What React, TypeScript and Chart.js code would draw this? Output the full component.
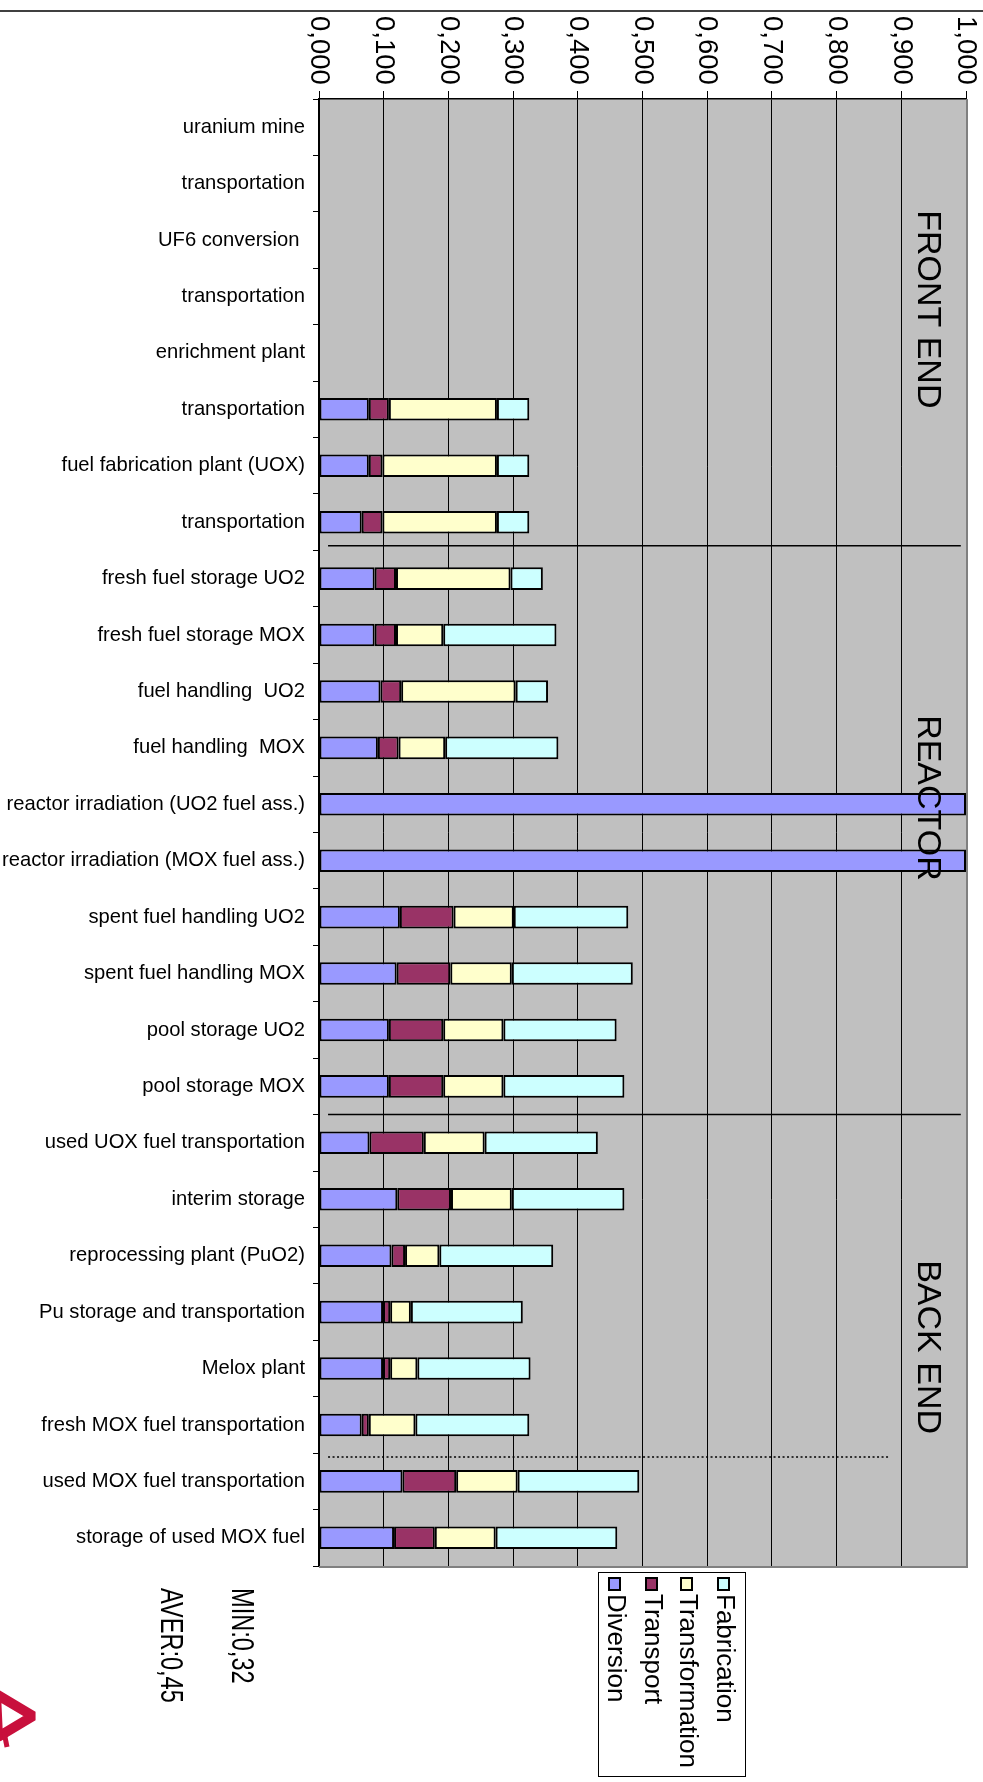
import React, { useEffect, useRef } from "react";
import { Chart, registerables } from "chart.js";
Chart.register(...registerables);

const categories = [
  "uranium mine",
  "transportation",
  "UF6 conversion ",
  "transportation",
  "enrichment plant",
  "transportation",
  "fuel fabrication plant (UOX)",
  "transportation",
  "fresh fuel storage UO2",
  "fresh fuel storage MOX",
  "fuel handling  UO2",
  "fuel handling  MOX",
  "reactor irradiation (UO2 fuel ass.)",
  "reactor irradiation (MOX fuel ass.)",
  "spent fuel handling UO2",
  "spent fuel handling MOX",
  "pool storage UO2",
  "pool storage MOX",
  "used UOX fuel transportation",
  "interim storage",
  "reprocessing plant (PuO2)",
  "Pu storage and transportation",
  "Melox plant",
  "fresh MOX fuel transportation",
  "used MOX fuel transportation",
  "storage of used MOX fuel",
];

const diversion = [null, null, null, null, null, 0.077, 0.077, 0.066, 0.086, 0.086, 0.095, 0.091, 1.0, 1.0, 0.125, 0.12, 0.108, 0.108, 0.078, 0.121, 0.112, 0.099, 0.099, 0.066, 0.129, 0.116];
const transport = [null, null, null, null, null, 0.031, 0.021, 0.032, 0.033, 0.033, 0.032, 0.032, null, null, 0.083, 0.083, 0.084, 0.084, 0.084, 0.083, 0.021, 0.011, 0.011, 0.011, 0.083, 0.063];
const transformation = [null, null, null, null, null, 0.167, 0.177, 0.177, 0.177, 0.073, 0.177, 0.072, null, null, 0.093, 0.095, 0.093, 0.093, 0.094, 0.094, 0.053, 0.032, 0.042, 0.072, 0.095, 0.094];
const fabrication = [null, null, null, null, null, 0.05, 0.05, 0.05, 0.05, 0.175, 0.05, 0.175, null, null, 0.177, 0.187, 0.175, 0.187, 0.175, 0.174, 0.176, 0.173, 0.175, 0.176, 0.188, 0.188];

const seriesNames = ["Diversion", "Transport", "Transformation", "Fabrication"];
const seriesColors = ["#9999FF", "#993366", "#FFFFCC", "#CCFFFF"];
const xTickValues = [0, 0.1, 0.2, 0.3, 0.4, 0.5, 0.6, 0.7, 0.8, 0.9, 1.0];
const sectionLabels = ["FRONT END", "REACTOR", "BACK END"];
const sectionLabelStart = [1.47, 10.42, 20.08];
const separators = [7.42, 17.5];
const dottedSeparator = 23.57;
const statLabels = ["MIN:0,32", "AVER:0,45"];

const FONT = "'Liberation Sans', Arial, sans-serif";

function vtext(ctx: CanvasRenderingContext2D, text: string, x: number, y: number, size: number, sx = 1) {
  ctx.save();
  ctx.translate(x, y);
  ctx.rotate(Math.PI / 2);
  ctx.scale(sx, 1);
  ctx.font = `${size}px ${FONT}`;
  ctx.textAlign = "left";
  ctx.textBaseline = "middle";
  ctx.fillStyle = "#000";
  ctx.fillText(text, 0, 0);
  ctx.restore();
}

const decorPlugin = {
  id: "decor",
  beforeDraw(chart: any) {
    const { ctx, chartArea } = chart;
    ctx.save();
    ctx.fillStyle = "#C0C0C0";
    ctx.fillRect(chartArea.left, chartArea.top, chartArea.right - chartArea.left, chartArea.bottom - chartArea.top);
    ctx.strokeStyle = "#404040";
    ctx.lineWidth = 2;
    ctx.beginPath();
    ctx.moveTo(0, 11);
    ctx.lineTo(chart.width, 11);
    ctx.stroke();
    ctx.restore();
  },
  afterDatasetsDraw(chart: any) {
    const { ctx, chartArea } = chart;
    const xs = chart.scales.x;
    const ys = chart.scales.y;
    ctx.save();
    ctx.strokeStyle = "#808080";
    ctx.lineWidth = 2;
    ctx.beginPath();
    ctx.moveTo(chartArea.right + 1, chartArea.top);
    ctx.lineTo(chartArea.right + 1, chartArea.bottom + 1);
    ctx.lineTo(chartArea.left, chartArea.bottom + 1);
    ctx.stroke();

    ctx.strokeStyle = "#000";
    ctx.lineWidth = 1.5;
    for (const s of separators) {
      const y = ys.getPixelForValue(s);
      ctx.beginPath();
      ctx.moveTo(xs.getPixelForValue(0.014), y);
      ctx.lineTo(xs.getPixelForValue(0.992), y);
      ctx.stroke();
    }
    ctx.setLineDash([2, 2.5]);
    {
      const y = ys.getPixelForValue(dottedSeparator);
      ctx.beginPath();
      ctx.moveTo(xs.getPixelForValue(0.014), y);
      ctx.lineTo(xs.getPixelForValue(0.882), y);
      ctx.stroke();
    }
    ctx.setLineDash([]);

    for (const v of xTickValues) {
      const label = v.toFixed(3).replace(".", ",");
      vtext(ctx, label, xs.getPixelForValue(v), 16, 28, 0.98);
    }

    sectionLabels.forEach((t, i) => {
      vtext(ctx, t, xs.getPixelForValue(0.94), ys.getPixelForValue(sectionLabelStart[i]), 34);
    });

    const lx0 = 598, ly0 = 1572, lw = 147, lh = 204;
    ctx.fillStyle = "#fff";
    ctx.fillRect(lx0, ly0, lw, lh);
    ctx.strokeStyle = "#000";
    ctx.lineWidth = 1;
    ctx.strokeRect(lx0 + 0.5, ly0 + 0.5, lw, lh);
    const itemX = [614, 651, 686, 723];
    seriesNames.forEach((n, i) => {
      const cx = itemX[i];
      ctx.fillStyle = seriesColors[i];
      ctx.fillRect(cx - 5, 1578, 11, 12);
      ctx.strokeStyle = "#000";
      ctx.lineWidth = 2;
      ctx.strokeRect(cx - 5, 1578, 11, 12);
      vtext(ctx, n, cx + 1, 1594, 26);
    });

    vtext(ctx, statLabels[0], 241, 1588, 31, 0.76);
    vtext(ctx, statLabels[1], 170, 1588, 31, 0.76);

    ctx.strokeStyle = "#C8103C";
    ctx.lineWidth = 10;
    ctx.lineJoin = "bevel";
    ctx.beginPath();
    ctx.moveTo(-4, 1694);
    ctx.lineTo(33, 1716);
    ctx.lineTo(-2, 1737);
    ctx.closePath();
    ctx.stroke();
    ctx.lineWidth = 5;
    ctx.beginPath();
    ctx.moveTo(4, 1732);
    ctx.lineTo(7, 1747);
    ctx.stroke();
    ctx.restore();
  },
};

export default function App() {
  const ref = useRef<HTMLCanvasElement | null>(null);
  useEffect(() => {
    document.body.style.margin = "0";
    const canvas = ref.current!;
    const data = [diversion, transport, transformation, fabrication];
    const chart = new Chart(canvas, {
      type: "bar",
      data: {
        labels: categories,
        datasets: seriesNames.map((n, i) => ({
          label: n,
          data: data[i] as any,
          backgroundColor: seriesColors[i],
          borderColor: "#000",
          borderWidth: 2,
          borderSkipped: false,
          categoryPercentage: 1,
          barPercentage: 0.4,
        })),
      },
      options: {
        indexAxis: "y",
        responsive: false,
        animation: false,
        devicePixelRatio: 1,
        layout: { padding: { left: 0, top: 0, right: 17, bottom: 216 } },
        plugins: { legend: { display: false }, tooltip: { enabled: false } },
        scales: {
          x: {
            type: "linear",
            position: "top",
            stacked: true,
            min: 0,
            max: 1,
            ticks: { stepSize: 0.1, display: false },
            grid: { color: "#000", lineWidth: 1, tickLength: 8, drawTicks: true },
            border: { display: true, color: "#000", width: 1.5 },
            afterFit: (s: any) => { s.height = 99; },
          },
          y: {
            type: "category",
            position: "left",
            stacked: true,
            ticks: { autoSkip: false, color: "#000", font: { family: FONT, size: 20.2 }, padding: 8 },
            grid: { drawOnChartArea: false, drawTicks: true, tickLength: 6, color: "#000", offset: true },
            border: { display: true, color: "#000", width: 2 },
            afterFit: (s: any) => { s.width = 319; },
          },
        },
      } as any,
      plugins: [decorPlugin],
    });
    return () => chart.destroy();
  }, []);
  return <canvas ref={ref} width={983} height={1782} style={{ display: "block", width: 983, height: 1782 }} />;
}
